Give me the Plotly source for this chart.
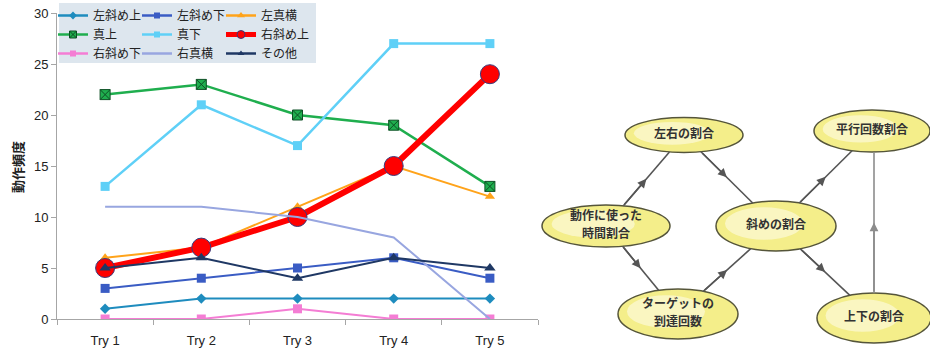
import plotly.graph_objects as go

# ---- data -----------------------------------------------------------------
tries = ["Try 1", "Try 2", "Try 3", "Try 4", "Try 5"]

series_names = ["左斜め上", "左斜め下", "左真横",
                "真上", "真下", "右斜め上",
                "右斜め下", "右真横", "その他"]

left_up = [1, 2, 2, 2, 2]
left_down = [3, 4, 5, 6, 4]
left_side = [6, 7, 11, 15, 12]
straight_up = [22, 23, 20, 19, 13]
straight_down = [13, 21, 17, 27, 27]
right_up = [5, 7, 10, 15, 24]
right_down = [0, 0, 1, 0, 0]
right_side = [11, 11, 10, 8, 0]
other = [5, 6, 4, 6, 5]

series_values = [left_up, left_down, left_side,
                 straight_up, straight_down, right_up,
                 right_down, right_side, other]

y_ticks = [0, 5, 10, 15, 20, 25, 30]

# relationship diagram: node labels (one entry per text line) and directed edges
node_labels = [["左右の割合"], ["平行回数割合"], ["動作に使った", "時間割合"],
               ["斜めの割合"], ["ターゲットの", "到達回数"], ["上下の割合"]]
edges = [(2, 0), (0, 3), (3, 1), (2, 4), (4, 3), (3, 5), (5, 1)]

# ---- styles ---------------------------------------------------------------
W, H = 930, 351
styles = [
    dict(color="#1e8cbe", width=2, symbol="diamond", size=8),
    dict(color="#3a5cc4", width=2, symbol="square", size=9),
    dict(color="#ffa31a", width=2, symbol="triangle-up", size=9),
    dict(color="#1fae4e", width=2.5, symbol="square-x", size=10, mline="#0d4f24"),
    dict(color="#5fd0f7", width=2.5, symbol="square", size=9),
    dict(color="#ff0000", width=6, symbol="circle", size=19, mline="#3a3a7a"),
    dict(color="#f47dd4", width=2, symbol="square", size=9),
    dict(color="#98a6e0", width=2, symbol=None, size=0),
    dict(color="#1f3864", width=2, symbol="triangle-up", size=10),
]
# smaller symbols used for the legend keys
legend_sizes = [6, 6, 7, 7, 6, 8, 6, 0, 6]
legend_widths = [2.5, 2.5, 2.5, 2.5, 2.5, 5, 2.5, 2.5, 2.5]

fig = go.Figure()


def marker_of(st, size):
    return dict(symbol=st["symbol"], size=size, color=st["color"],
                line=dict(color=st.get("mline", st["color"]),
                          width=1 if "mline" in st else 0))


for i, (name, vals, st) in enumerate(zip(series_names, series_values, styles)):
    kw = dict(x=tries, y=vals, name=name, showlegend=False,
              line=dict(color=st["color"], width=st["width"]),
              xaxis="x", yaxis="y", hoverinfo="skip")
    if st["symbol"] is None:
        kw["mode"] = "lines"
    else:
        kw["mode"] = "lines+markers"
        kw["marker"] = marker_of(st, st["size"])
    fig.add_trace(go.Scatter(**kw))

# legend keys, laid out in three columns
for i, (name, st) in enumerate(zip(series_names, styles)):
    kw = dict(x=[None], y=[None], name=name, legend=["legend", "legend2", "legend3"][i % 3],
              line=dict(color=st["color"], width=legend_widths[i]),
              xaxis="x", yaxis="y", hoverinfo="skip")
    if st["symbol"] is None:
        kw["mode"] = "lines"
    else:
        kw["mode"] = "lines+markers"
        kw["marker"] = marker_of(st, legend_sizes[i])
    fig.add_trace(go.Scatter(**kw))

# ---- diagram geometry (pixel space of the right-hand panel) --------------
node_cx = [684, 872, 606, 776, 678, 874]
node_cy = [135, 131, 226, 226, 314, 318]
node_rx = [59, 58, 64, 60, 60, 57]
node_ry = [17.5, 21, 21, 25, 25, 25]
line_gap = 18  # distance between the two lines of a two-line label

shapes = []
# legend background panel
shapes.append(dict(type="rect", xref="paper", yref="paper",
                   x0=59 / W, x1=316 / W, y0=1 - 63 / H, y1=1 - 3 / H,
                   fillcolor="#dde6ee", line=dict(width=0), layer="below"))

for cx, cy, rx, ry in zip(node_cx, node_cy, node_rx, node_ry):
    shapes.append(dict(type="circle", xref="x2", yref="y2",
                       x0=cx - rx, x1=cx + rx, y0=cy - ry, y1=cy + ry,
                       fillcolor="#f4ee8a", line=dict(color="#55553a", width=1.5),
                       layer="below"))
    # soft highlight for a gradient-like look
    shapes.append(dict(type="circle", xref="x2", yref="y2",
                       x0=cx - rx * 0.85, x1=cx + rx * 0.45,
                       y0=cy - ry * 0.75, y1=cy + ry * 0.55,
                       fillcolor="#fcfad8", opacity=0.7, line=dict(width=0),
                       layer="below"))


def clip(ia, ib):
    """Point where the segment from node ia towards node ib leaves ellipse ia."""
    dx = node_cx[ib] - node_cx[ia]
    dy = node_cy[ib] - node_cy[ia]
    t = 1.0 / ((dx / node_rx[ia]) ** 2 + (dy / node_ry[ia]) ** 2) ** 0.5
    return node_cx[ia] + t * dx, node_cy[ia] + t * dy


annotations = []
for a, b in edges:
    x0, y0 = clip(a, b)
    x1, y1 = clip(b, a)
    vertical = (a, b) == (5, 1)
    col = "#8c8c8c" if vertical else "#555555"
    if vertical:
        x0 = x1 = node_cx[a]
    shapes.append(dict(type="line", xref="x2", yref="y2",
                       x0=x0, y0=y0, x1=x1, y1=y1,
                       line=dict(color=col, width=1.6)))
    mx, my = (x0 + x1) / 2, (y0 + y1) / 2
    annotations.append(dict(x=mx, y=my, ax=x0, ay=y0, xref="x2", yref="y2",
                            axref="x2", ayref="y2", text="", showarrow=True,
                            arrowhead=2, arrowsize=1.1, arrowwidth=1.6,
                            arrowcolor=col, standoff=0, startstandoff=0))

# node labels: each text line is its own point so lines stay separate
lx, ly, lt = [], [], []
for cx, cy, lines in zip(node_cx, node_cy, node_labels):
    n = len(lines)
    for k, txt in enumerate(lines):
        lx.append(cx)
        ly.append(cy + (k - (n - 1) / 2) * line_gap)
        lt.append(txt)

fig.add_trace(go.Scatter(
    x=lx, y=ly, text=lt, mode="text", textposition="middle center",
    textfont=dict(family="Noto Sans CJK JP", size=12, color="#333333", weight="bold"),
    xaxis="x2", yaxis="y2", showlegend=False, hoverinfo="skip"))

# y-axis title
annotations.append(dict(text="動作頻度", textangle=-90, xref="paper", yref="paper",
                        x=17 / W, y=1 - 167 / H, xanchor="center", yanchor="middle",
                        showarrow=False,
                        font=dict(family="Noto Sans CJK JP", size=13, color="#222222",
                                  weight="bold")))

legend_font = dict(family="Noto Sans CJK JP", size=12, color="#222222")
legend_common = dict(bgcolor="rgba(0,0,0,0)", font=legend_font, xanchor="left",
                     yanchor="top", y=1 - 1 / H, itemwidth=30, tracegroupgap=0)

axis_font = dict(family="Liberation Sans, Arial, sans-serif", size=13, color="#222222")

fig.update_layout(
    width=W, height=H, margin=dict(l=0, r=0, t=0, b=0, autoexpand=False),
    paper_bgcolor="white", plot_bgcolor="white",
    showlegend=True,
    legend=dict(x=53 / W, **legend_common),
    legend2=dict(x=137 / W, **legend_common),
    legend3=dict(x=221 / W, **legend_common),
    xaxis=dict(domain=[57 / W, 538 / W], type="category", categoryorder="array",
               categoryarray=tries, range=[-0.5, 4.5], anchor="y",
               showline=True, linecolor="#a6a6a6", linewidth=1,
               ticks="outside", tickson="boundaries", ticklen=5, tickcolor="#a6a6a6",
               ticklabelstandoff=9,
               showgrid=False, zeroline=False, tickfont=axis_font),
    yaxis=dict(domain=[(H - 319) / H, (H - 13) / H], range=[0, 30],
               tickvals=y_ticks, anchor="x",
               showline=True, linecolor="#a6a6a6", linewidth=1,
               ticks="outside", ticklen=5, tickcolor="#a6a6a6",
               showgrid=False, zeroline=False, tickfont=axis_font),
    xaxis2=dict(domain=[540 / W, 1], range=[540, 930], visible=False, anchor="y2",
                fixedrange=True),
    yaxis2=dict(domain=[0, 1], range=[351, 0], visible=False, anchor="x2",
                fixedrange=True),
    shapes=shapes,
    annotations=annotations,
)

fig.write_html("out.html")
